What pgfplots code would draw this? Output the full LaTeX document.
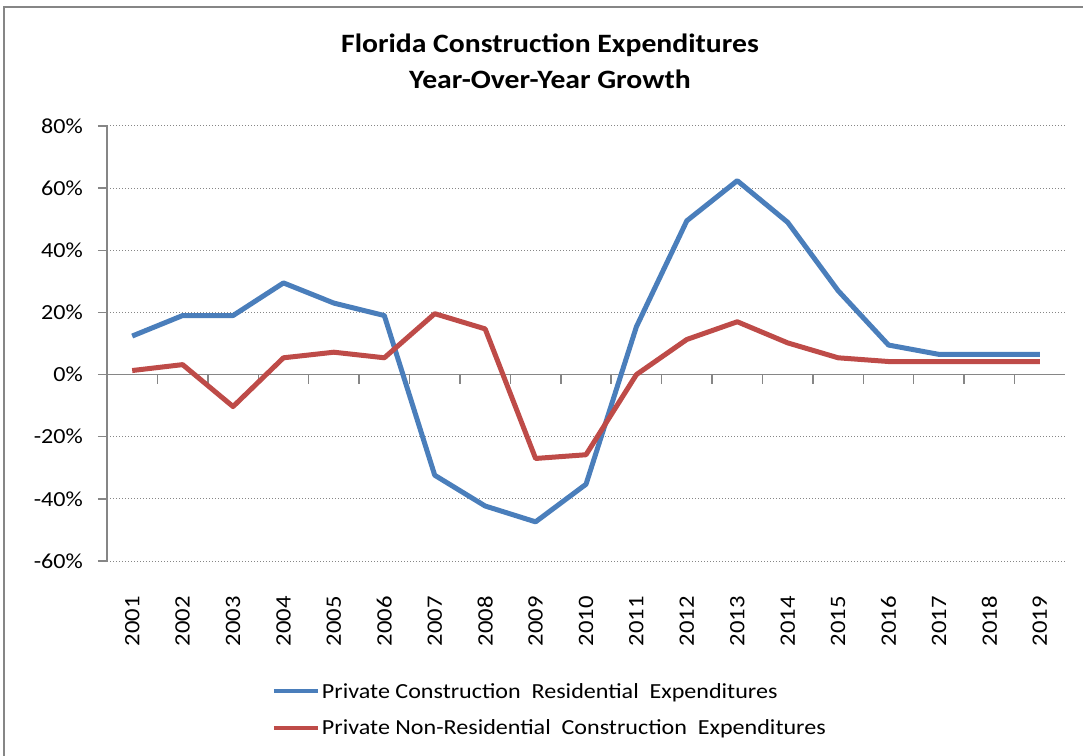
\documentclass[border=0pt]{standalone}
\usepackage{fontspec}
\setmainfont{Carlito}[FakeStretch=1.12]
\usepackage{pgfplots}
\pgfplotsset{compat=1.18}
\definecolor{resblue}{HTML}{4A7EBB}
\definecolor{nonred}{HTML}{BE4B48}
\definecolor{axgray}{HTML}{868686}
\begin{document}
\begin{tikzpicture}[x=1pt,y=1pt]
\useasboundingbox (-107,-194) rectangle (976,561);
\draw[axgray,line width=1.5pt] (-103,-200) -- (-103,554) -- (990,554);
\node[font=\bfseries\fontsize{26.5}{31}\selectfont,align=center] at (443,500) {Florida Construction Expenditures\\[5pt]Year-Over-Year Growth};
\begin{axis}[
  at={(0,0)}, anchor=south west,
  scale only axis, width=958pt, height=435pt,
  xmin=0.5, xmax=19.5, ymin=-60, ymax=80,
  axis lines*=left,
  x axis line style={draw=none},
  y axis line style={axgray,line width=1.5pt},
  xtick={1,...,19},
  xticklabels={2001,2002,2003,2004,2005,2006,2007,2008,2009,2010,2011,2012,2013,2014,2015,2016,2017,2018,2019},
  xtick style={draw=none},
  xticklabel style={rotate=90,anchor=east,inner sep=0pt,font=\fontsize{22}{22}\selectfont},
  xticklabel shift=26pt,
  ytick={-60,-40,-20,0,20,40,60,80},
  yticklabels={-60\%,-40\%,-20\%,0\%,20\%,40\%,60\%,80\%},
  ytick pos=left,
  tick align=outside,
  major tick length=9pt,
  ytick style={axgray,line width=1.5pt},
  yticklabel style={anchor=east,inner sep=0pt,font=\fontsize{21.5}{21.5}\selectfont},
  yticklabel shift=15pt,
  ymajorgrids,
  major grid style={axgray,line width=1pt,dash pattern=on 1pt off 2pt},
  legend style={at={(0.172,-0.276)},anchor=north west,draw=none,fill=none,
    font=\fontsize{21.5}{21.5}\selectfont,row sep=16pt,inner sep=0pt,
    nodes={inner sep=2pt}},
  legend cell align=left,
  legend image code/.code={\draw[#1,line width=4pt] (0pt,0pt) -- (44pt,0pt);},
  clip=false,
]
\draw[axgray,line width=1.5pt] (axis cs:0.5,0) -- (axis cs:19.5,0);
\pgfplotsinvokeforeach{1.5,2.5,...,18.5}{\draw[axgray,line width=1.5pt] (axis cs:#1,0) -- ([yshift=-9pt]axis cs:#1,0);}
\addplot[resblue,line width=5pt,line join=round] coordinates {
(1,12.4)(2,19)(3,19)(4,29.5)(5,23)(6,19)(7,-32.4)(8,-42.3)(9,-47.4)(10,-35.3)
(11,15.4)(12,49.5)(13,62.4)(14,49)(15,27)(16,9.5)(17,6.5)(18,6.5)(19,6.5)};
\addlegendentry{Private Construction\ \ Residential\ \ Expenditures}
\addplot[nonred,line width=5pt,line join=round] coordinates {
(1,1.3)(2,3.2)(3,-10.3)(4,5.4)(5,7.2)(6,5.4)(7,19.6)(8,14.7)(9,-27)(10,-25.8)
(11,0)(12,11.3)(13,17)(14,10.2)(15,5.4)(16,4.2)(17,4.2)(18,4.2)(19,4.2)};
\addlegendentry{Private Non-Residential\ \ Construction\ \ Expenditures}
\end{axis}
\end{tikzpicture}
\end{document}
